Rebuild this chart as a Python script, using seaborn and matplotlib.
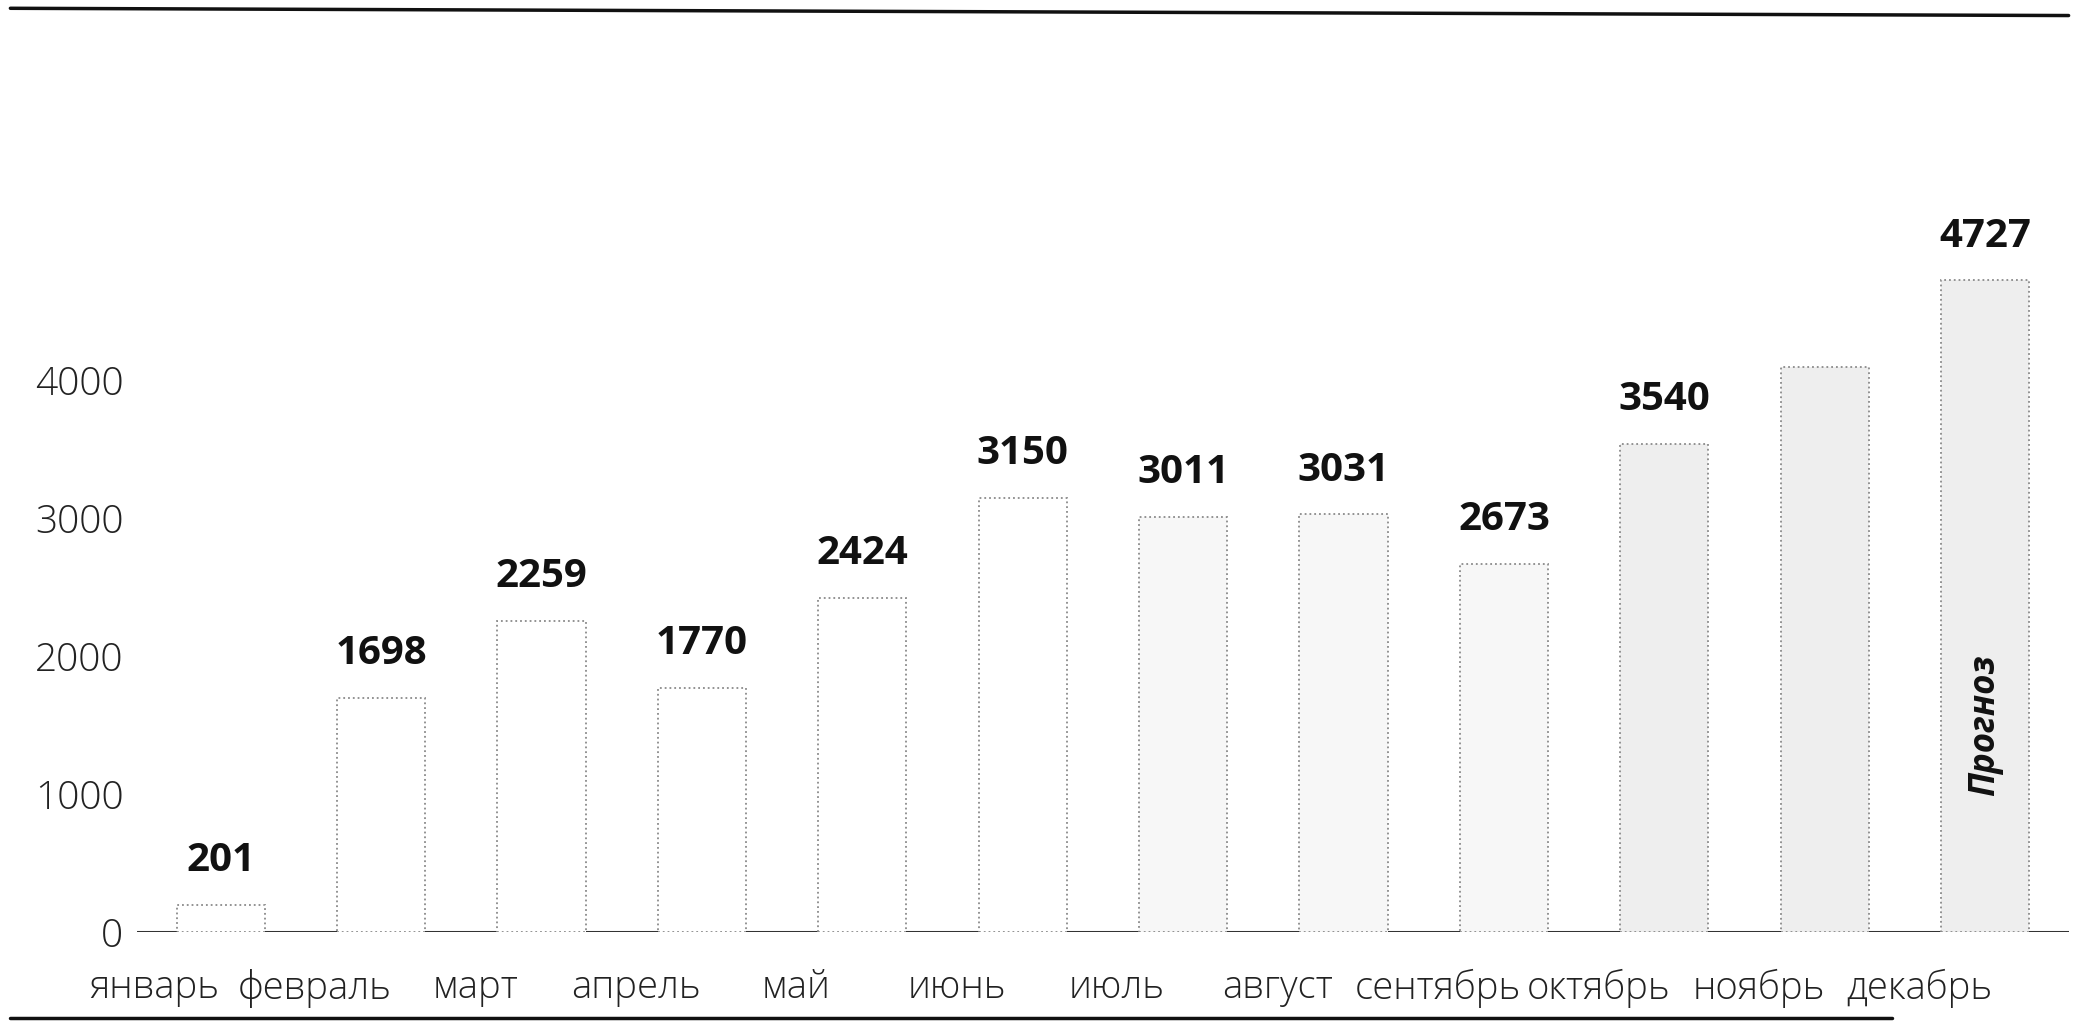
import matplotlib
matplotlib.use("Agg")
import matplotlib.pyplot as plt
import matplotlib.transforms as mtransforms
from matplotlib.lines import Line2D
import seaborn as sns
import pandas as pd

months = ["январь", "февраль", "март", "апрель", "май", "июнь",
          "июль", "август", "сентябрь", "октябрь", "ноябрь", "декабрь"]
values = [201, 1698, 2259, 1770, 2424, 3150, 3011, 3031, 2673, 3540, 4100, 4727]
# ноябрь has no printed label in the source
shown = [True] * 10 + [False, True]
fills = ["#ffffff"] * 6 + ["#f7f7f7"] * 3 + ["#eeeeee"] * 3
yticks = [0, 1000, 2000, 3000, 4000]
forecast_label = "Прогноз"

sns.set_theme(style="white")
plt.rcParams["font.family"] = ["Open Sans", "DejaVu Sans"]

df = pd.DataFrame({"month": months, "value": values})

fig = plt.figure(figsize=(20.79, 10.36), dpi=100)
ax = fig.add_axes([0.066, 0.100, 0.929, 0.679])

sns.barplot(data=df, x="month", y="value", hue="month", palette=fills,
            legend=False, width=0.55, ax=ax, zorder=2)
for p in ax.patches:
    p.set_edgecolor("#8a8a8a")
    p.set_linestyle(":")
    p.set_linewidth(1.3)

# baseline only visible between bars
ax.axhline(0, color="#333333", lw=2.2, zorder=1)

for i, (v, s) in enumerate(zip(values, shown)):
    if s:
        ax.text(i, v + 180, str(v), ha="center", va="bottom",
                fontsize=29, fontweight="bold", color="#111111")

ax.text(11, 1500, forecast_label, rotation=90, ha="center", va="center",
        fontsize=25, fontweight="bold", fontstyle="italic", color="#111111")

ax.set_xlim(-0.52, 11.52)
ax.set_ylim(0, 5100)
ax.set_yticks(yticks)
ax.set_yticklabels([str(t) for t in yticks], fontsize=28, color="#222222",
                   fontweight="light")
ax.tick_params(axis="x", labelsize=27.5, colors="#222222", length=0, pad=26)
ax.tick_params(axis="y", length=0, pad=10)
for lab in ax.get_xticklabels():
    lab.set_fontweight("light")
ax.set_xlabel("")
ax.set_ylabel("")
for sp in ax.spines.values():
    sp.set_visible(False)

# month labels sit left of the bars in the source
shift = mtransforms.ScaledTranslation(-0.66, 0, fig.dpi_scale_trans)
for lab in ax.get_xticklabels():
    lab.set_transform(lab.get_transform() + shift)

fig.add_artist(Line2D([0.005, 0.995], [0.992, 0.985], color="#111111", lw=2.5))
fig.add_artist(Line2D([0.005, 0.91], [0.017, 0.017], color="#111111", lw=2.5))

fig.savefig("out.png", dpi=100)
